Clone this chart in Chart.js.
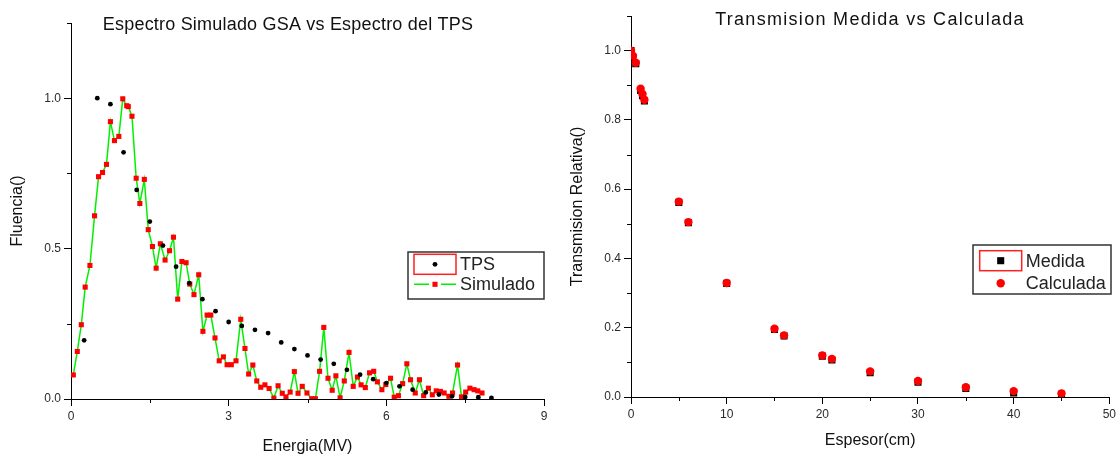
<!DOCTYPE html>
<html>
<head>
<meta charset="utf-8">
<script src="https://cdn.jsdelivr.net/npm/chart.js@4.4.0/dist/chart.umd.min.js"></script>
<style>
  html, body { margin: 0; padding: 0; background: #fff; }
  #wrap { position: relative; width: 1119px; height: 457px; }
  canvas { position: absolute; top: 0; }
  #spectrum { left: 0; }
  #transmission { left: 560px; }
</style>
</head>
<body>
<div id="wrap">
  <canvas id="spectrum" width="560" height="457"></canvas>
  <canvas id="transmission" width="559" height="457"></canvas>
</div>
<script>
// Espectro del TPS (energia en MV, fluencia relativa)
const tpsEnergy = [0.25, 0.5, 0.75, 1.0, 1.25, 1.5, 1.75, 2.0, 2.25, 2.5, 2.75, 3.0, 3.25, 3.5, 3.75, 4.0,
  4.25, 4.5, 4.75, 5.0, 5.25, 5.5, 5.75, 6.0, 6.25, 6.5, 6.75, 7.0, 7.25, 7.5, 7.75, 8.0];
const tpsFluence = [0.195, 1.0, 0.98, 0.82, 0.695, 0.59, 0.51, 0.44, 0.385, 0.332, 0.292, 0.256, 0.243, 0.23, 0.219, 0.188,
  0.166, 0.145, 0.131, 0.117, 0.097, 0.081, 0.066, 0.053, 0.042, 0.031, 0.022, 0.015, 0.009, 0.007, 0.006, 0.004];

// Espectro simulado GSA
const simEnergy = [0.044, 0.12, 0.196, 0.27, 0.36, 0.448, 0.524, 0.6, 0.675, 0.75, 0.827, 0.91, 0.985, 1.06, 1.09,
  1.16, 1.24, 1.31, 1.395, 1.47, 1.55, 1.62, 1.7, 1.79, 1.875, 1.95, 2.03, 2.11, 2.19, 2.26, 2.34, 2.43, 2.51,
  2.59, 2.66, 2.74, 2.82, 2.9, 2.97, 3.05, 3.14, 3.23, 3.31, 3.38, 3.46, 3.535, 3.61, 3.69, 3.77, 3.86, 3.94,
  4.02, 4.09, 4.17, 4.25, 4.32, 4.4, 4.49, 4.58, 4.65, 4.73, 4.81, 4.89, 4.97, 5.04, 5.12, 5.2, 5.29, 5.37,
  5.45, 5.52, 5.6, 5.68, 5.76, 5.83, 5.915, 5.99, 6.08, 6.15, 6.23, 6.31, 6.39, 6.46, 6.55, 6.63, 6.71, 6.8,
  6.875, 6.95, 7.03, 7.1, 7.19, 7.26, 7.355, 7.43, 7.51, 7.59, 7.67, 7.74, 7.82];
const simFluence = [0.08, 0.158, 0.247, 0.372, 0.444, 0.609, 0.739, 0.753, 0.78, 0.922, 0.859, 0.873, 0.998, 0.975, 0.972,
  0.94, 0.734, 0.65, 0.73, 0.563, 0.507, 0.435, 0.516, 0.462, 0.493, 0.538, 0.332, 0.457, 0.453, 0.382, 0.347, 0.413, 0.225,
  0.279, 0.279, 0.203, 0.127, 0.14, 0.114, 0.114, 0.127, 0.265, 0.168, 0.083, 0.113, 0.06, 0.039, 0.047, 0.035, 0.003, 0.044,
  0.019, 0.007, 0.023, 0.091, 0.019, 0.042, 0.02, 0.001, 0.001, 0.092, 0.238, 0.069, 0.029, 0.077, 0.004, 0.06, 0.155, 0.042,
  0.073, 0.047, 0.038, 0.087, 0.092, 0.057, 0.031, 0.048, 0.069, 0.006, 0.011, 0.051, 0.117, 0.064, 0.02, 0.064, 0.011, 0.036,
  0.014, 0.027, 0.025, 0.02, 0.009, 0.02, 0.113, 0.007, 0.023, 0.036, 0.031, 0.027, 0.02];

// Transmision relativa vs espesor (cm)
const thickness = [0, 0.2, 0.5, 1.0, 1.2, 1.4, 5, 6, 10, 15, 16, 20, 21, 25, 30, 35, 40, 45];
const measured = [1.0, 0.98, 0.962, 0.885, 0.87, 0.855, 0.562, 0.503, 0.328, 0.195, 0.176, 0.118, 0.107, 0.07, 0.043, 0.025, 0.012, 0.008];
const calculated = [1.0, 0.985, 0.965, 0.89, 0.875, 0.858, 0.564, 0.505, 0.329, 0.197, 0.178, 0.12, 0.11, 0.074, 0.046, 0.028, 0.017, 0.01];

Chart.defaults.font.family = '"Liberation Sans", Arial, sans-serif';
Chart.defaults.animation = false;

const toPoints = (xs, ys) => xs.map((x, i) => ({ x: x, y: ys[i] }));
const isMajor = (v, step) => Math.abs(v / step - Math.round(v / step)) < 1e-6;

// axis in the Origin look: only the line, outward ticks, labels on major ticks
function axis(min, max, minorStep, majorStep, fmt, title, titlePad, size) {
  return {
    type: 'linear', min: min, max: max,
    border: { color: '#000', width: 1 },
    grid: {
      drawOnChartArea: false, tickLength: 7, tickWidth: 1,
      tickColor: c => (c.tick && !isMajor(c.tick.value, majorStep)) ? 'rgba(0,0,0,0)' : '#000'
    },
    ticks: {
      stepSize: minorStep, autoSkip: false, maxRotation: 0, padding: 3,
      color: '#2b2b2b', font: { size: 12 },
      callback: v => isMajor(v, majorStep) ? fmt(v) : ''
    },
    title: { display: true, text: title, color: '#111', font: { size: 16 }, padding: titlePad },
    afterFit: s => { if (s.isHorizontal()) s.height = size; else s.width = size; }
  };
}

// minor ticks, title and the boxed legend
const originStyle = {
  id: 'originStyle',
  afterDraw(chart, args, o) {
    const ctx = chart.ctx;
    ctx.save();
    ctx.strokeStyle = '#000';
    ctx.lineWidth = 1;
    Object.values(chart.scales).forEach(s => {
      s.ticks.forEach(t => {
        if (t.label !== '') return;
        const p = Math.round(s.getPixelForValue(t.value)) + 0.5;
        ctx.beginPath();
        if (s.isHorizontal()) { ctx.moveTo(p, s.top); ctx.lineTo(p, s.top + 4); }
        else { ctx.moveTo(s.right, p); ctx.lineTo(s.right - 4, p); }
        ctx.stroke();
      });
    });

    ctx.fillStyle = '#111';
    ctx.textAlign = 'center';
    ctx.textBaseline = 'alphabetic';
    ctx.font = o.titleSize + 'px "Liberation Sans", Arial, sans-serif';
    ctx.letterSpacing = o.titleSpacing + 'px';
    ctx.fillText(o.title, o.titleX, o.titleY);
    ctx.letterSpacing = '0px';

    const L = o.legend;
    ctx.lineWidth = 1.5;
    ctx.strokeStyle = '#333';
    ctx.strokeRect(L.x, L.y, L.w, L.h);
    ctx.font = '18px "Liberation Sans", Arial, sans-serif';
    ctx.textAlign = 'left';
    ctx.textBaseline = 'middle';
    chart.data.datasets.forEach((ds, i) => {
      const cy = L.y + L.first + i * L.rowH;
      const cx = L.x + L.markX;
      if (ds.legendBox) {
        ctx.strokeStyle = '#ff2020';
        ctx.lineWidth = 1.5;
        ctx.strokeRect(cx - 21, cy - 10, 42, 20);
      }
      if (ds.showLine) {
        ctx.strokeStyle = ds.borderColor;
        ctx.lineWidth = ds.borderWidth;
        ctx.beginPath();
        ctx.moveTo(cx - 21, cy); ctx.lineTo(cx - 6, cy);
        ctx.moveTo(cx + 6, cy); ctx.lineTo(cx + 21, cy);
        ctx.stroke();
      }
      ctx.fillStyle = ds.backgroundColor;
      const r = ds.pointRadius;
      if (ds.pointStyle === 'rect') {
        const h = r * Math.SQRT1_2;
        ctx.fillRect(cx - h, cy - h, 2 * h, 2 * h);
      } else {
        ctx.beginPath(); ctx.arc(cx, cy, r, 0, Math.PI * 2); ctx.fill();
      }
      ctx.fillStyle = '#222';
      ctx.fillText(ds.label, cx + 25, cy + 1);
    });
    ctx.restore();
  }
};

new Chart(document.getElementById('spectrum'), {
  type: 'scatter',
  data: {
    datasets: [{
      label: 'TPS',
      data: toPoints(tpsEnergy, tpsFluence),
      legendBox: true,
      pointStyle: 'circle', pointRadius: 2.4, borderWidth: 0,
      backgroundColor: '#000', borderColor: '#000', order: 0
    }, {
      label: 'Simulado',
      data: toPoints(simEnergy, simFluence),
      showLine: true, borderColor: '#00f000', borderWidth: 1.5, tension: 0,
      pointStyle: 'rect', pointRadius: 3.6, pointBorderWidth: 0,
      backgroundColor: '#ff0000', pointBackgroundColor: '#ff0000', order: 1
    }]
  },
  options: {
    responsive: false,
    layout: { padding: { left: 0, top: 23, right: 16, bottom: 0 } },
    scales: {
      x: axis(0, 9, 1.5, 3, v => String(v), 'Energia(MV)', { top: 4, bottom: 1 }, 58),
      y: axis(0, 1.25, 0.25, 0.5, v => v.toFixed(1), 'Fluencia()', { top: 8, bottom: 4 }, 71)
    },
    plugins: {
      legend: { display: false },
      tooltip: { enabled: false },
      originStyle: {
        title: 'Espectro Simulado GSA vs Espectro del TPS', titleX: 288, titleY: 29.5, titleSize: 18, titleSpacing: 0.2,
        legend: { x: 408, y: 252, w: 136, h: 47, first: 12.3, rowH: 20, markX: 27 }
      }
    }
  },
  plugins: [originStyle]
});

new Chart(document.getElementById('transmission'), {
  type: 'scatter',
  data: {
    datasets: [{
      label: 'Medida',
      data: toPoints(thickness, measured),
      legendBox: true,
      pointStyle: 'rect', pointRadius: 5, borderWidth: 0,
      backgroundColor: '#000', borderColor: '#000', order: 1
    }, {
      label: 'Calculada',
      data: toPoints(thickness, calculated),
      pointStyle: 'circle', pointRadius: 4.2, borderWidth: 0,
      backgroundColor: '#ff0000', borderColor: '#ff0000', order: 0
    }]
  },
  options: {
    responsive: false,
    layout: { padding: { left: 0, top: 16, right: 9, bottom: 0 } },
    scales: {
      x: axis(0, 50, 5, 10, v => String(v), 'Espesor(cm)', { top: 4, bottom: 7 }, 60),
      y: axis(0, 1.1, 0.1, 0.2, v => v.toFixed(1), 'Transmision Relativa()', { top: 8, bottom: 4 }, 71)
    },
    plugins: {
      legend: { display: false },
      tooltip: { enabled: false },
      originStyle: {
        title: 'Transmision Medida vs Calculada', titleX: 310, titleY: 25, titleSize: 18, titleSpacing: 1.3,
        legend: { x: 413, y: 245, w: 138, h: 49, first: 15.7, rowH: 22.6, markX: 27.7 }
      }
    }
  },
  plugins: [originStyle]
});
</script>
</body>
</html>
